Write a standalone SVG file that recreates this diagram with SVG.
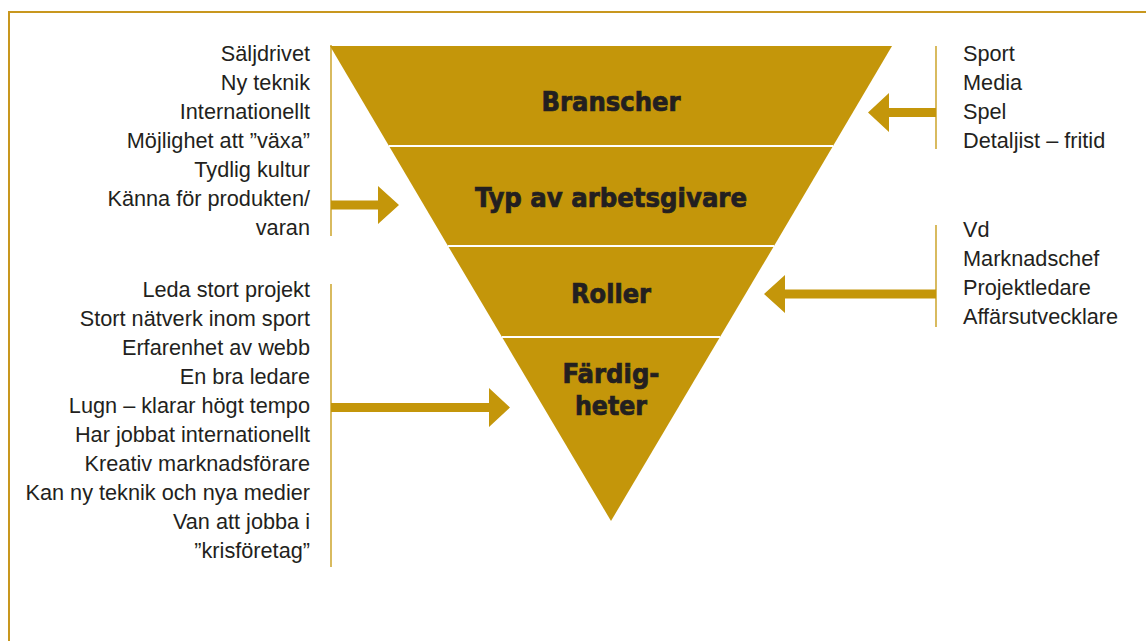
<svg xmlns="http://www.w3.org/2000/svg" width="1146" height="641" viewBox="0 0 1146 641">
  <style>
    .tier { fill: #C4960A; }
    .div { stroke: #FFFFFF; stroke-width: 2; fill: none; }
    .head { font-family: "DejaVu Sans Condensed", "DejaVu Sans", sans-serif; font-weight: bold; font-size: 27px; fill: #231F20; stroke: #231F20; stroke-width: 0.7; text-anchor: middle; }
    .lbl { font-family: "Liberation Sans", Arial, sans-serif; font-size: 21.7px; fill: #231F20; }
    .r { text-anchor: end; }
    .bar { stroke: #C4960A; stroke-width: 1.3; fill: none; }
    .arrow { fill: #C4960A; }
    .frame { stroke: #C8971E; stroke-width: 2; fill: none; }
  </style>
  <rect x="0" y="0" width="1146" height="641" fill="#FFFFFF"/>
  <path class="frame" d="M9,641 V12 H1146"/>

  <g id="tier-branscher">
    <polygon class="tier" points="330,46 892,46 833,146 389,146"/>
    <text class="head" x="611" y="111" textLength="139" lengthAdjust="spacingAndGlyphs">Branscher</text>
  </g>
  <g id="tier-typ">
    <polygon class="tier" points="389,146 833,146 774,246 448,246"/>
    <text class="head" x="611" y="207" textLength="272" lengthAdjust="spacingAndGlyphs">Typ av arbetsgivare</text>
  </g>
  <g id="tier-roller">
    <polygon class="tier" points="448,246 774,246 720,337 502,337"/>
    <text class="head" x="611" y="303" textLength="80" lengthAdjust="spacingAndGlyphs">Roller</text>
  </g>
  <g id="tier-fardigheter">
    <polygon class="tier" points="502,337 720,337 611,521"/>
    <text class="head" x="611" y="383" textLength="97" lengthAdjust="spacingAndGlyphs">Färdig-</text>
    <text class="head" x="611" y="415" textLength="72" lengthAdjust="spacingAndGlyphs">heter</text>
  </g>
  <g id="dividers">
    <line class="div" x1="389" y1="146" x2="833" y2="146"/>
    <line class="div" x1="448" y1="246" x2="774" y2="246"/>
    <line class="div" x1="502" y1="337" x2="720" y2="337"/>
  </g>

  <g id="list-arbetsgivare">
    <text class="lbl r" x="310" y="61">Säljdrivet</text>
    <text class="lbl r" x="310" y="90">Ny teknik</text>
    <text class="lbl r" x="310" y="119">Internationellt</text>
    <text class="lbl r" x="310" y="148">Möjlighet att ”växa”</text>
    <text class="lbl r" x="310" y="177">Tydlig kultur</text>
    <text class="lbl r" x="310" y="206">Känna för produkten/</text>
    <text class="lbl r" x="310" y="235">varan</text>
  </g>
  <g id="list-fardigheter">
    <text class="lbl r" x="310" y="297">Leda stort projekt</text>
    <text class="lbl r" x="310" y="326">Stort nätverk inom sport</text>
    <text class="lbl r" x="310" y="355">Erfarenhet av webb</text>
    <text class="lbl r" x="310" y="384">En bra ledare</text>
    <text class="lbl r" x="310" y="413">Lugn – klarar högt tempo</text>
    <text class="lbl r" x="310" y="442">Har jobbat internationellt</text>
    <text class="lbl r" x="310" y="471">Kreativ marknadsförare</text>
    <text class="lbl r" x="310" y="500">Kan ny teknik och nya medier</text>
    <text class="lbl r" x="310" y="529">Van att jobba i</text>
    <text class="lbl r" x="310" y="558">”krisföretag”</text>
  </g>
  <g id="list-branscher">
    <text class="lbl" x="963" y="61">Sport</text>
    <text class="lbl" x="963" y="90">Media</text>
    <text class="lbl" x="963" y="119">Spel</text>
    <text class="lbl" x="963" y="148">Detaljist – fritid</text>
  </g>
  <g id="list-roller">
    <text class="lbl" x="963" y="237">Vd</text>
    <text class="lbl" x="963" y="266">Marknadschef</text>
    <text class="lbl" x="963" y="295">Projektledare</text>
    <text class="lbl" x="963" y="324">Affärsutvecklare</text>
  </g>

  <g id="connectors">
    <line class="bar" x1="331" y1="45" x2="331" y2="236"/>
    <line class="bar" x1="331" y1="284" x2="331" y2="567"/>
    <line class="bar" x1="936" y1="46" x2="936" y2="149"/>
    <line class="bar" x1="936" y1="225" x2="936" y2="327"/>
    <polygon class="arrow" points="331,200.5 378,200.5 378,186 399,205 378,224 378,209.5 331,209.5"/>
    <polygon class="arrow" points="331,403 489,403 489,388 510,407.5 489,427 489,412 331,412"/>
    <polygon class="arrow" points="936,108 889,108 889,93 868,112.5 889,132 889,117 936,117"/>
    <polygon class="arrow" points="936,289.5 785,289.5 785,275 764,294 785,313 785,298.5 936,298.5"/>
  </g>
</svg>
